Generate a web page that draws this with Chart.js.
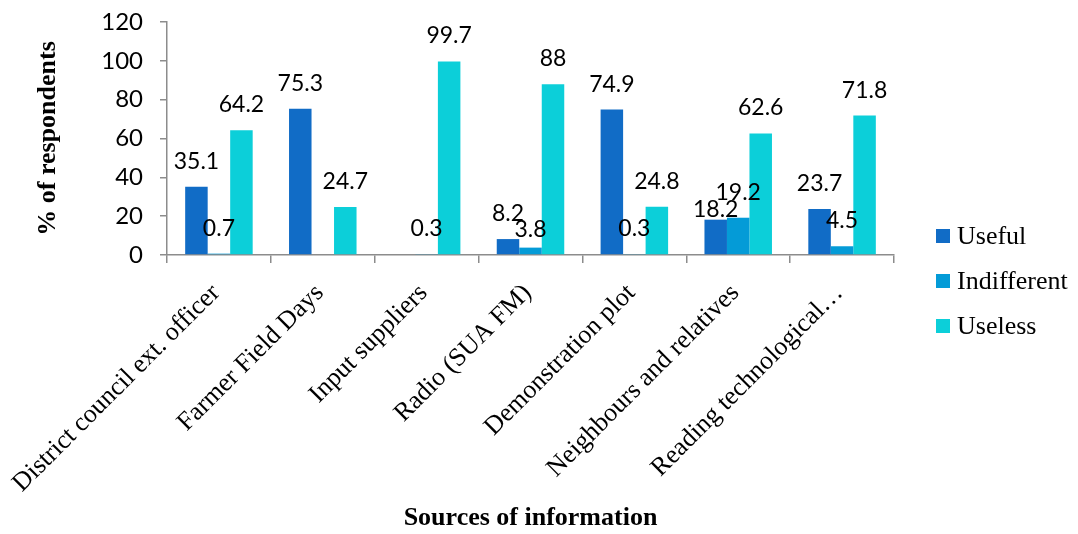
<!DOCTYPE html>
<html>
<head>
<meta charset="utf-8">
<script src="https://cdn.jsdelivr.net/npm/chart.js@4.4.1/dist/chart.umd.min.js"></script>
<style>
  body { margin: 0; background: #fff; }
  #wrap { width: 1078px; height: 534px; }
</style>
</head>
<body>
<div id="wrap"><canvas id="chart"></canvas></div>
<script>
// Categories and series
const categories = [
    'District council ext. officer', 'Farmer Field Days', 'Input suppliers',
    'Radio (SUA FM)', 'Demonstration plot', 'Neighbours and relatives',
    'Reading technological\u2026'
];
const seriesNames = ['Useful', 'Indifferent', 'Useless'];
const useful      = [35.1, 75.3, null, 8.2, 74.9, 18.2, 23.7];
const indifferent = [0.7, null, 0.3, 3.8, 0.3, 19.2, 4.5];
const useless     = [64.2, 24.7, 99.7, 88, 24.8, 62.6, 71.8];
const yMin = 0, yMax = 120, yStep = 20;

const colors = ['#116CC6', '#049BD7', '#0CCFD9'];
const axisColor = '#8c8c8c';
const serif = '"Liberation Serif", "Times New Roman", serif';
const sans = 'Lato, Carlito, Calibri, sans-serif';

// Value labels above each bar (a couple were moved by hand in the original)
const valueLabels = {
    id: 'valueLabels',
    afterDatasetsDraw(chart, args, opts) {
        const ctx = chart.ctx;
        ctx.save();
        ctx.font = '23px ' + sans;
        ctx.fillStyle = '#000';
        ctx.textAlign = 'center';
        ctx.textBaseline = 'alphabetic';
        chart.data.datasets.forEach((ds, di) => {
            const meta = chart.getDatasetMeta(di);
            meta.data.forEach((bar, i) => {
                const v = ds.data[i];
                if (v === null || v === undefined) return;
                const shift = opts.nudge[di + '-' + i] || 0;
                ctx.fillText(String(v), bar.x, bar.y - 18 + shift);
            });
        });
        ctx.restore();
    }
};

// Legend drawn to the right of the plot, like the Excel one
const sideLegend = {
    id: 'sideLegend',
    afterDraw(chart, args, opts) {
        const ctx = chart.ctx;
        ctx.save();
        ctx.font = '26px ' + serif;
        ctx.textBaseline = 'middle';
        ctx.textAlign = 'left';
        chart.data.datasets.forEach((ds, i) => {
            const y = opts.top + i * opts.gap;
            ctx.fillStyle = ds.backgroundColor;
            ctx.fillRect(opts.left, y - 7, 14, 14);
            ctx.fillStyle = '#000';
            ctx.fillText(ds.label, opts.left + 21, y + 1);
        });
        ctx.restore();
    }
};

new Chart(document.getElementById('chart'), {
    type: 'bar',
    data: {
        labels: categories,
        datasets: [
            { label: seriesNames[0], data: useful, backgroundColor: colors[0] },
            { label: seriesNames[1], data: indifferent, backgroundColor: colors[1] },
            { label: seriesNames[2], data: useless, backgroundColor: colors[2] }
        ]
    },
    options: {
        responsive: true,
        maintainAspectRatio: false,
        animation: false,
        datasets: { bar: { categoryPercentage: 0.65, barPercentage: 1.0 } },
        layout: { padding: { top: 22, right: 184, left: 33, bottom: 0 } },
        plugins: {
            legend: { display: false },
            tooltip: { enabled: false },
            valueLabels: { nudge: { '0-5': 15, '1-3': 7 } },
            sideLegend: { left: 936, top: 236, gap: 45 }
        },
        scales: {
            x: {
                grid: { drawOnChartArea: false, color: axisColor, tickLength: 8, lineWidth: 1.5 },
                border: { color: axisColor, width: 1.5 },
                ticks: {
                    color: '#000', autoSkip: false, maxRotation: 45, minRotation: 45,
                    padding: 15, labelOffset: -3, font: { family: serif, size: 26 }
                },
                title: {
                    display: true, text: 'Sources of information', color: '#000',
                    font: { family: serif, size: 26, weight: 'bold' }, padding: 0
                },
                afterFit(scale) {
                    scale.height = 279;
                    scale.paddingLeft = 0;
                    scale.paddingRight = 0;
                }
            },
            y: {
                min: yMin, max: yMax,
                grid: { drawOnChartArea: false, color: axisColor, tickLength: 7, lineWidth: 1.5 },
                border: { color: axisColor, width: 1.5 },
                ticks: { stepSize: yStep, color: '#000', padding: 17, font: { family: sans, size: 24 } },
                title: {
                    display: true, text: '% of respondents', color: '#000',
                    font: { family: serif, size: 26, weight: 'bold' }, padding: 0
                },
                afterFit(scale) {
                    scale.width = 134;
                    scale.paddingTop = 8;
                    scale.paddingBottom = 8;
                }
            }
        }
    },
    plugins: [valueLabels, sideLegend]
});
</script>
</body>
</html>
